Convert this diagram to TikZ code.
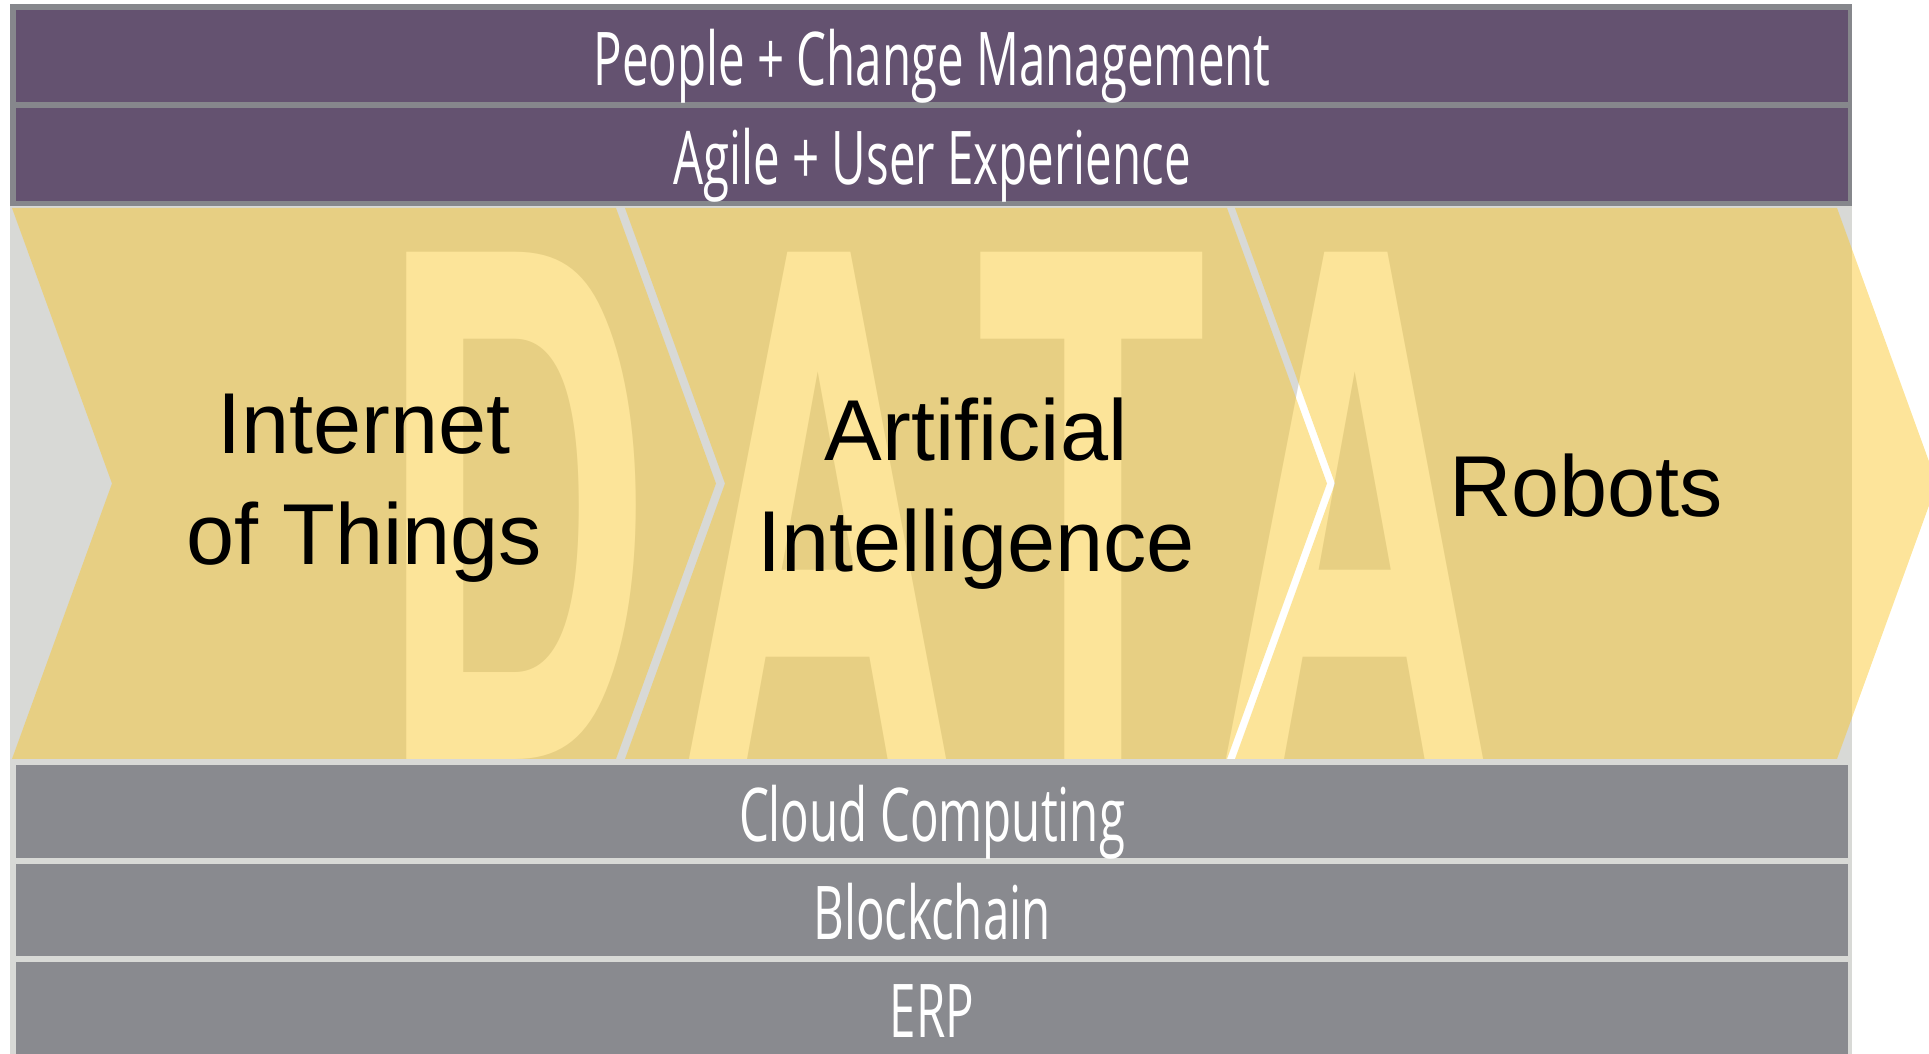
\documentclass[tikz,border=0pt]{standalone}
\usepackage{fontspec}
\setmainfont{Liberation Sans}
\newfontfamily\bandfont[FakeStretch=0.64]{Open Sans}
\newfontfamily\datafont[FakeStretch=0.546]{TeX Gyre Heros}
\definecolor{bandpurple}{HTML}{645270}
\definecolor{bandgrey}{HTML}{898A8F}
\definecolor{paleback}{HTML}{D8D9D6}
\definecolor{chevgold}{RGB}{250,196,30}

\tikzset{
  band/.style={rectangle, inner sep=0pt, minimum width=183.2mm, minimum height=9.25mm,
    text=white, font=\bandfont\fontsize{21.1}{24}\selectfont, text height=16.8pt, text depth=0pt},
  chevron/.style={fill=chevgold, fill opacity=0.45},
  stage/.style={align=center, inner sep=0pt, font=\fontsize{24.6}{31.6}\selectfont}
}

\begin{document}
\begin{tikzpicture}[x=0.1mm, y=-0.1mm]
      \useasboundingbox (0,0) rectangle (1929,1054);
      % frame of the two top layers and pale ground
      \fill[bandgrey!98!black] (10,4) rectangle (1852,206);
      \fill[paleback] (10,206) rectangle (1852,1054);
      % big letters behind the chevrons
      \node [anchor=base west, inner sep=0pt, text=white,
        font=\datafont\bfseries\fontsize{198}{198}\selectfont] (data) at (377,760)
        {D\kern7.7pt A\kern6.3pt T\kern2.6pt A};
      % chevrons
      \foreach \l/\r in {12/616,625/1227,1235/1837}
        \fill[chevron] (\l,208) -- (\r,208) -- (\r+100,483.5) -- (\r,759)
          -- (\l,759) -- (\l+100,483.5) -- cycle;
      \node [stage] (iot) at (364,488) {Internet\\of Things};
      \node [stage] (ai) at (976,494) {Artificial\\Intelligence};
      \node [stage] (robots) at (1586,486) {Robots};
      % layers
      \node [band, fill=bandpurple] (people) at (932,56) {People + Change Management};
      \node [band, fill=bandpurple] (agile) at (932,154.5) {Agile + User Experience};
      \node [band, fill=bandgrey] (cloud) at (932,811.5) {Cloud Computing};
      \node [band, fill=bandgrey] (blockchain) at (932,910) {Blockchain};
      \node [band, fill=bandgrey] (erp) at (932,1008) {ERP};
\end{tikzpicture}
\end{document}
